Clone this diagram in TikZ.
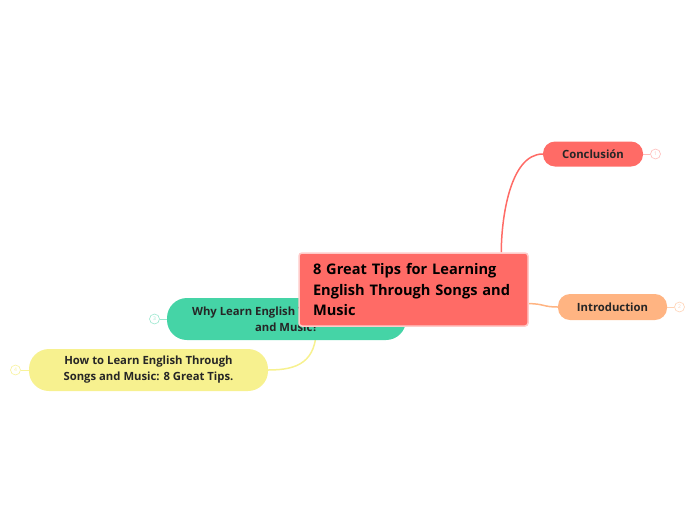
\documentclass[tikz,border=0pt]{standalone}
\usepackage{fontspec}
\setmainfont{Open Sans}
\usetikzlibrary{positioning, backgrounds}
\definecolor{mapred}{RGB}{255,107,102}
\definecolor{mappeach}{RGB}{255,180,130}
\definecolor{mapgreen}{RGB}{69,212,166}
\definecolor{mapyellow}{RGB}{247,241,143}

\begin{document}
\begin{tikzpicture}[x=1pt, y=-1pt,
    central/.style={fill=mapred, draw=mapred!35, line width=1.5pt, rounded corners=3pt,
        minimum width=229pt, minimum height=73pt, text width=201pt, align=left,
        inner sep=0pt, font=\fontsize{14.6}{20.5}\selectfont\bfseries},
    topic/.style={rounded corners=12pt, minimum height=25pt, inner sep=0pt,
        text=black!85, font=\fontsize{11.3}{16}\selectfont\bfseries, align=center},
    num/.style={circle, draw, line width=0.6pt, minimum size=10pt, inner sep=0pt,
        fill=white, font=\fontsize{5}{5}\selectfont},
    link/.style={line width=1.5pt},
    stub/.style={line width=0.8pt}
  ]
  \useasboundingbox (0,0) rectangle (696,520);
  \node[topic, fill=mapred, minimum width=100pt] (concl) at (593,154) {Conclusión};
  \node[topic, fill=mappeach, minimum width=109pt, minimum height=26pt] (intro) at (612.5,307) {Introduction};
  \node[topic, fill=mapgreen, minimum width=239pt, minimum height=42pt, rounded corners=20pt]
    (why) at (286.5,319) {Why Learn English Through Songs\\and Music?};
  \node[topic, fill=mapyellow, minimum width=239pt, minimum height=42pt, rounded corners=20pt]
    (how) at (148.5,370) {How to Learn English Through\\Songs and Music: 8 Great Tips.};
  \node[central] (main) at (413.5,289.5) {8 Great Tips for Learning\\English Through Songs and\\Music};

  \node[num, draw=mapred!45, text=mapred!45, right=7pt of concl] (n1) {1};
  \node[num, draw=mappeach!60, text=mappeach!60, right=7pt of intro] (n2) {2};
  \node[num, draw=mapgreen!55, text=mapgreen!55, left=7pt of why] (n3) {3};
  \node[num, draw=mapyellow!90, text=mapyellow!90, left=8pt of how] (n4) {4};

  \begin{scope}[on background layer]
    \draw[link, mapred] (main.23.6) .. controls +(0,-33) and +(-33,0) .. (concl.west);
    \draw[link, mappeach] (main.-7.7) .. controls +(15,0) and +(-15,0) .. (intro.west);
    \draw[link, mapyellow] (main.201.7) .. controls +(0,35) and +(30,0) .. (how.east);
    \draw[stub, mapred!45] (concl) -- (n1);
    \draw[stub, mappeach!60] (intro) -- (n2);
    \draw[stub, mapgreen!55] (why) -- (n3);
    \draw[stub, mapyellow!90] (how) -- (n4);
  \end{scope}
\end{tikzpicture}
\end{document}
